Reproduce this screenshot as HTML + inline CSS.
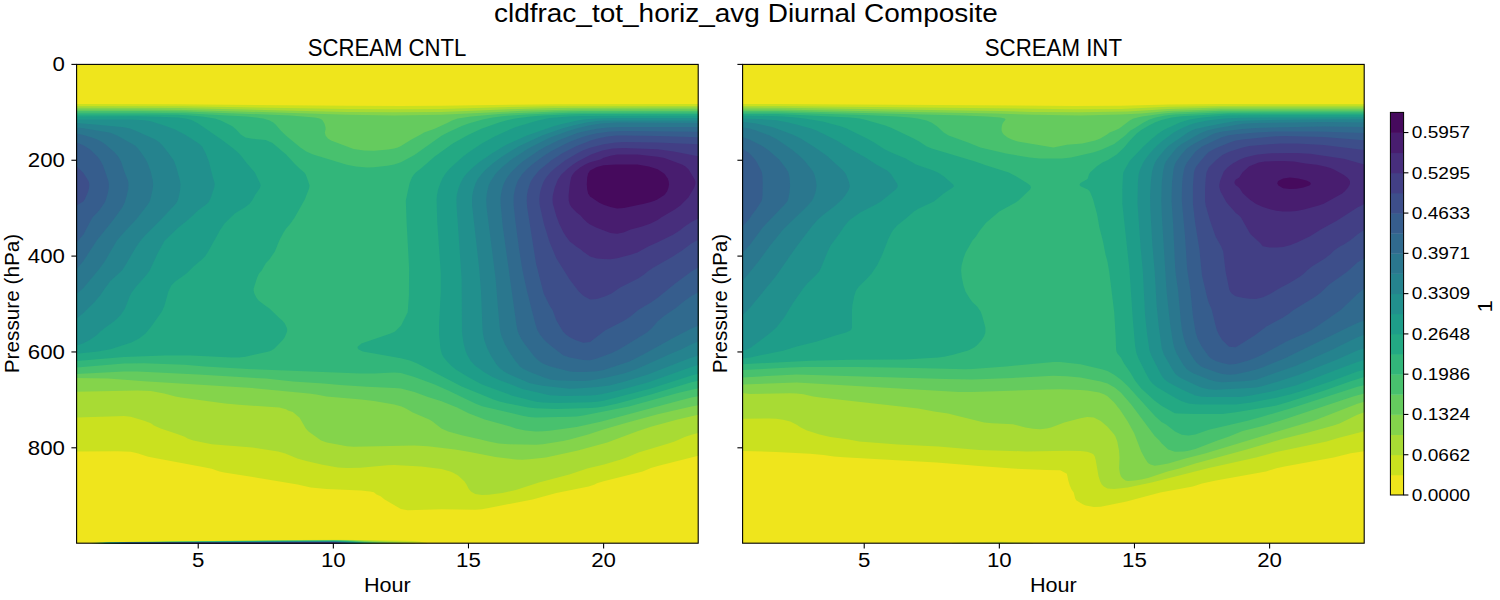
<!DOCTYPE html>
<html><head><meta charset="utf-8"><title>cldfrac_tot_horiz_avg Diurnal Composite</title>
<style>
html,body{margin:0;padding:0;background:#fff;}
body{width:1500px;height:600px;overflow:hidden;font-family:"Liberation Sans",sans-serif;}
svg{display:block;}
svg text{font-family:"Liberation Sans",sans-serif;fill:#000;}
</style></head><body>
<svg width="1500" height="600" viewBox="0 0 1500 600">
<rect width="1500" height="600" fill="#fff"/>

<g shape-rendering="geometricPrecision">
<rect x="76.6" y="64.4" width="621.6" height="478.8" fill="#efe51c"/>
<path fill="#cae11f" d="M76.6,104.4 76.6,104.1 177.9,104.3 346.9,105.7 400.9,105.9 441.5,105.7 556.3,104.2 698.2,104.1 698.2,455.7 657.7,465.9 650.9,468.0 642.6,471.4 603.6,481.3 596.9,483.3 594.7,484.4 588.6,486.4 556.3,493.1 532.5,499.4 488.7,508.1 482.0,509.2 475.2,509.7 441.5,509.3 407.7,510.3 400.9,509.1 384.6,499.4 380.6,496.3 376.6,494.4 373.9,492.2 370.0,491.4 361.1,490.4 326.6,489.1 310.7,487.4 297.6,484.4 224.3,472.4 219.5,471.4 211.7,468.8 205.5,467.4 152.1,457.4 147.4,456.4 137.4,453.2 130.7,451.8 117.1,451.3 76.6,451.4Z"/>
<path fill="#a8db34" d="M76.6,106.4 76.6,106.0 184.7,106.3 346.9,109.0 400.9,109.2 441.5,108.9 502.3,107.2 549.6,106.2 698.2,105.9 698.2,433.1 691.4,434.8 684.7,437.1 674.6,441.4 668.4,443.4 638.4,452.4 626.7,457.4 620.9,459.4 604.0,464.4 587.2,468.4 569.3,474.4 538.9,482.4 515.8,490.0 502.3,493.0 488.7,494.8 482.0,495.1 475.2,494.0 470.9,491.4 468.5,488.5 466.5,484.4 464.5,481.4 458.1,475.4 452.7,472.4 450.2,471.4 441.5,469.0 421.2,466.6 394.2,465.0 387.4,465.2 360.4,467.8 346.9,468.0 337.8,467.4 321.4,464.4 306.3,461.0 297.3,458.4 285.3,453.4 278.1,451.4 252.3,447.5 211.7,444.3 193.3,440.4 187.6,438.4 184.7,436.8 177.9,434.2 160.7,428.4 153.9,425.4 150.9,423.3 144.2,420.7 130.7,416.7 123.9,416.1 117.1,416.2 76.6,417.6Z"/>
<path fill="#84d44b" d="M76.6,108.4 76.6,107.7 177.9,108.0 346.9,111.9 394.2,112.2 441.5,111.9 509.0,109.2 556.3,108.0 698.2,107.6 698.2,414.8 677.5,419.4 650.9,426.8 637.4,431.2 607.2,442.4 577.9,450.4 545.9,457.4 529.3,459.2 522.5,459.7 515.8,459.5 495.5,456.9 468.5,451.8 455.0,449.6 427.9,446.2 414.4,445.5 353.6,446.8 346.9,446.2 326.8,442.4 321.1,440.4 308.5,431.4 305.8,428.4 299.6,417.8 292.8,412.1 288.0,410.4 286.1,409.2 279.3,407.6 238.8,404.8 225.2,403.5 180.9,397.4 175.4,396.4 164.2,393.4 150.9,390.9 137.4,390.4 76.6,391.7Z"/>
<path fill="#65cb5e" d="M580.1,109.4 698.2,109.3 698.2,405.2 691.4,406.4 657.7,414.3 623.9,423.4 603.3,429.4 588.1,434.4 569.8,439.6 563.1,441.1 542.8,444.3 536.0,444.8 509.0,444.3 498.7,443.4 488.7,441.6 480.7,439.4 461.7,435.2 448.2,431.4 441.4,428.4 432.5,421.4 429.2,419.4 412.8,412.4 405.9,408.4 401.6,406.4 394.2,404.5 373.9,400.9 361.2,399.4 326.6,396.4 316.3,394.4 308.8,393.4 252.3,388.1 144.2,381.3 108.2,378.4 76.6,378.1 76.6,109.4 137.4,109.5 184.7,109.9 292.8,112.9 346.9,114.8 394.2,115.4 441.5,114.8 522.5,110.8Z"/>
<path fill="#48c16e" d="M76.6,111.4 76.6,111.1 137.4,111.1 184.7,111.6 290.3,115.4 314.8,117.4 319.5,118.4 321.6,119.4 322.7,120.4 324.4,123.4 325.6,127.4 325.6,129.4 324.8,132.4 325.6,135.4 327.9,138.4 331.1,140.4 353.6,148.9 364.1,150.4 373.9,150.8 388.4,149.4 394.2,148.5 397.8,147.4 400.9,146.1 411.4,139.4 421.2,134.3 424.0,132.4 434.7,128.7 448.2,122.5 452.0,120.4 457.7,118.4 471.0,116.4 502.3,113.8 556.3,111.4 583.3,111.0 698.2,110.9 698.2,396.3 691.4,397.5 676.1,401.4 601.6,421.4 576.6,427.1 549.6,430.7 542.8,431.3 536.0,431.4 525.3,430.4 515.8,428.5 506.6,425.4 484.7,419.4 468.5,413.3 457.1,407.4 441.5,401.2 427.9,396.9 414.4,392.0 400.9,388.6 394.2,387.9 367.1,386.8 340.1,384.9 323.7,383.4 292.8,381.4 265.8,378.6 198.2,374.5 137.6,371.4 123.9,371.4 76.6,374.1Z"/>
<path fill="#32b67a" d="M76.6,113.4 76.6,112.7 144.2,112.7 184.7,113.2 246.4,116.4 263.1,118.4 269.7,120.4 273.3,122.4 275.6,124.4 280.7,130.4 286.1,135.7 300.4,147.4 306.3,151.6 313.1,154.5 346.9,164.8 355.8,166.4 367.1,167.4 373.9,167.3 387.4,165.7 394.2,164.5 400.9,162.2 414.4,155.1 441.5,135.8 448.2,132.2 461.7,126.0 468.5,123.5 482.7,119.4 492.7,117.4 502.3,116.2 526.0,114.4 569.8,112.7 698.2,112.5 698.2,388.3 677.9,393.1 628.9,406.4 583.3,415.6 576.6,416.4 569.8,416.8 536.0,417.5 529.3,416.9 522.5,415.7 482.0,406.2 475.2,403.6 448.2,390.6 434.7,384.6 414.4,376.9 400.9,373.0 394.2,372.5 373.9,373.6 360.4,373.5 252.3,369.2 204.9,366.4 184.7,364.7 144.2,363.3 123.9,363.6 76.6,367.4Z"/>
<path fill="#23a983" d="M76.6,114.4 144.2,114.4 177.9,114.8 190.4,115.4 201.8,116.4 214.9,118.4 220.8,120.4 232.0,126.0 236.2,129.4 240.7,134.4 245.5,137.5 252.3,138.7 265.8,140.1 272.5,143.1 286.1,154.5 294.4,163.4 299.6,168.4 304.3,172.4 305.7,174.4 306.9,177.4 309.6,185.4 309.1,188.4 304.8,199.4 294.7,217.4 289.7,224.4 286.1,228.4 283.0,233.4 279.3,240.4 274.9,251.4 269.4,259.4 265.8,263.3 261.7,270.4 259.0,273.6 256.8,278.4 253.7,288.4 253.6,290.4 254.3,293.4 256.3,297.4 258.5,300.4 265.8,306.0 269.5,308.4 279.3,318.0 282.2,320.4 284.8,323.4 286.7,327.4 287.2,329.4 287.1,331.4 284.6,337.4 282.3,340.4 274.5,348.4 271.4,350.4 268.9,351.4 245.5,356.7 238.8,357.6 232.0,357.6 191.5,355.6 164.4,355.4 123.9,357.1 76.6,361.1ZM566.4,114.4 583.3,114.0 698.2,114.0 698.2,380.7 691.4,382.3 650.9,394.6 617.6,403.4 603.6,406.6 596.9,407.5 590.1,407.9 556.3,409.0 536.0,408.3 528.5,407.4 507.6,403.4 499.4,401.4 493.5,399.4 461.7,386.4 417.3,363.4 409.9,360.4 400.9,358.3 362.8,351.4 358.7,349.4 357.8,348.4 357.5,347.4 357.9,346.4 361.4,343.4 390.6,333.4 395.1,331.4 401.1,325.4 407.7,312.3 408.9,295.4 409.1,268.4 406.6,222.4 405.8,200.4 409.5,183.4 411.9,177.4 413.9,174.4 415.7,172.4 421.2,168.2 434.7,156.4 452.7,143.4 469.0,134.4 482.0,128.6 499.1,122.4 506.1,120.4 515.1,118.4 530.6,116.4 542.8,115.4Z"/>
<path fill="#1e9d89" d="M76.6,116.4 137.4,116.3 157.7,116.7 177.9,117.6 185.6,118.4 191.5,119.9 198.2,123.4 222.8,140.4 233.3,148.4 239.0,153.4 241.7,156.4 247.0,163.4 254.9,172.4 260.1,183.4 260.7,185.4 259.7,188.4 255.4,194.4 252.1,200.4 249.8,203.4 245.5,206.9 234.8,213.4 224.5,223.4 219.8,230.4 207.7,252.4 204.9,256.4 201.9,259.4 193.5,266.4 186.5,273.4 175.3,281.4 171.3,285.4 168.4,291.4 164.5,305.4 161.9,311.4 150.9,327.1 145.6,333.4 139.1,338.4 131.4,342.4 110.4,349.2 97.9,351.4 76.6,353.8ZM569.0,116.4 583.3,115.9 698.2,115.8 698.2,373.7 691.4,375.4 650.9,388.5 603.6,400.8 596.9,401.8 590.1,402.2 556.3,402.9 542.8,402.6 536.0,401.7 511.5,395.4 482.0,384.4 468.5,377.2 455.8,369.4 451.0,365.4 446.3,360.4 443.8,357.4 442.0,354.4 440.4,348.4 439.0,333.4 439.0,324.4 440.8,291.4 440.8,273.4 437.3,222.4 436.6,200.4 436.9,195.4 438.1,189.4 440.2,183.4 442.4,178.4 445.5,173.4 449.8,168.4 463.0,156.4 469.8,151.4 481.8,143.4 494.6,136.4 507.7,130.4 515.8,127.1 537.8,120.4 549.6,118.0Z"/>
<path fill="#21908d" d="M595.9,118.4 617.1,118.0 698.2,118.1 698.2,365.0 691.4,366.9 647.8,382.4 618.0,390.4 603.6,393.8 596.9,395.0 590.1,395.5 563.1,396.0 549.6,395.3 522.5,388.9 500.4,380.4 491.5,376.4 484.7,372.4 474.9,365.4 470.4,360.4 467.0,354.4 465.4,350.4 463.6,343.4 462.0,332.4 461.6,278.4 456.6,206.4 456.4,199.4 456.9,194.4 458.4,188.4 460.8,182.4 463.5,177.4 466.7,173.4 471.7,168.4 478.7,162.4 491.8,153.4 504.9,145.4 526.9,135.4 552.9,126.4 559.9,124.4 577.4,120.4 583.6,119.4ZM76.6,119.4 130.7,119.5 144.2,120.2 150.9,121.3 154.7,122.4 167.1,126.4 175.0,129.4 184.7,134.5 192.7,139.4 198.8,143.4 202.1,146.4 205.3,152.4 208.9,161.4 212.6,176.4 214.5,182.4 214.7,184.4 214.2,187.4 210.5,198.4 208.3,202.4 206.1,204.4 198.0,210.4 188.4,219.4 177.9,228.0 164.4,241.1 157.7,253.2 149.7,270.4 146.9,274.4 136.2,286.4 131.7,292.4 129.6,296.4 125.0,308.4 120.3,315.4 113.8,321.4 105.4,327.4 100.4,331.4 96.9,334.9 90.1,339.7 83.4,343.2 76.6,345.4Z"/>
<path fill="#25838e" d="M603.9,120.4 698.2,120.4 698.2,355.5 688.9,358.4 647.9,374.4 623.9,381.7 609.4,385.4 596.9,387.0 576.6,388.6 569.8,388.7 542.8,385.7 536.0,384.6 529.3,382.9 509.0,374.2 504.0,371.4 500.2,368.4 496.5,364.4 491.4,356.4 487.3,348.4 484.4,340.4 483.1,334.4 482.5,329.4 481.0,291.4 479.2,268.4 472.0,204.4 472.1,196.4 473.5,189.4 475.5,183.4 477.5,179.4 481.2,174.4 485.9,169.4 492.7,163.4 500.7,157.4 518.4,146.4 542.0,135.4 562.0,128.4 573.0,125.4 586.7,122.4 596.9,121.0ZM76.6,123.4 76.6,122.9 94.9,124.4 123.9,127.3 129.8,128.4 135.1,130.4 155.3,139.4 159.6,142.4 162.5,145.4 168.8,153.4 173.8,160.4 176.4,167.4 180.0,180.4 180.5,184.4 180.2,189.4 178.9,196.4 177.7,200.4 176.1,203.4 161.9,218.4 145.9,234.4 141.5,239.4 137.0,245.4 125.9,264.4 122.0,270.4 110.4,280.9 104.8,288.4 100.1,295.4 94.1,302.4 83.4,312.9 76.6,318.4Z"/>
<path fill="#2a778e" d="M601.0,123.4 617.1,122.6 698.2,123.1 698.2,341.5 691.4,344.2 681.1,349.4 671.2,353.5 637.9,368.4 630.6,371.3 623.7,373.4 606.5,377.4 590.1,380.5 583.3,380.9 569.8,380.8 556.3,380.3 550.2,379.4 542.8,377.1 529.3,371.7 522.7,368.4 520.1,366.4 515.8,361.6 509.0,351.5 504.6,343.4 501.7,336.4 500.5,332.4 499.7,327.4 495.5,277.7 486.6,207.4 486.2,199.4 487.0,192.4 488.7,185.6 490.5,181.4 495.1,174.4 497.6,171.4 502.3,167.0 511.5,159.4 528.2,148.4 549.6,137.8 566.7,131.4 576.5,128.4 588.6,125.4ZM76.6,128.4 76.6,127.5 83.4,128.3 110.4,132.8 117.0,135.4 134.9,145.4 137.1,147.4 141.0,152.4 145.7,159.4 147.8,163.4 150.7,171.4 152.8,180.4 153.1,184.4 152.6,189.4 150.6,198.4 149.6,201.4 147.8,204.4 136.2,219.4 125.7,230.4 117.1,240.2 105.3,260.4 99.6,268.4 83.4,287.9 76.6,294.1Z"/>
<path fill="#306a8e" d="M607.9,127.4 623.9,126.9 698.2,127.0 698.2,325.7 691.4,328.5 674.0,337.4 644.1,354.0 629.5,361.4 603.6,369.9 596.9,371.3 583.3,371.9 576.6,372.0 569.8,371.6 549.6,366.2 542.8,363.5 538.4,360.4 534.3,356.4 525.0,344.4 521.6,339.4 518.6,333.4 517.3,329.4 516.4,324.4 502.6,225.4 500.6,203.4 500.5,198.4 501.1,193.4 502.7,186.4 504.3,182.4 507.1,177.4 510.9,172.4 518.0,165.4 522.7,161.4 538.7,150.4 545.9,146.4 558.0,140.4 576.6,133.2 583.3,131.4 596.9,128.7ZM76.6,134.4 76.6,133.6 83.4,135.0 91.7,137.4 97.2,139.4 101.1,141.4 105.5,144.4 114.8,152.4 118.8,157.4 121.0,161.4 124.3,171.4 128.0,180.4 128.6,184.4 128.2,189.4 126.5,196.4 124.7,202.4 122.2,207.4 112.8,220.4 96.9,240.3 83.4,260.9 76.6,269.0Z"/>
<path fill="#365d8d" d="M610.3,131.4 623.9,131.1 698.2,131.7 698.2,292.2 691.4,296.1 684.7,300.7 675.1,308.4 664.4,315.7 657.7,321.3 651.5,328.4 646.9,332.4 623.9,346.6 617.1,350.4 610.5,353.4 596.9,358.6 590.1,360.3 583.3,360.1 569.8,357.5 563.1,355.2 549.6,344.8 544.9,340.4 539.9,334.4 537.1,329.4 535.0,322.4 526.6,289.4 522.5,270.4 519.3,250.4 515.4,221.4 513.6,204.4 513.7,195.4 515.1,188.4 517.1,182.4 518.6,179.4 522.5,173.7 526.5,169.4 532.1,164.4 544.3,155.4 550.7,151.4 563.1,144.9 569.8,141.8 581.2,137.4 587.5,135.4 595.9,133.4ZM76.6,143.4 76.6,142.5 83.4,145.3 90.1,149.4 97.4,156.4 101.0,161.4 103.0,165.4 108.2,180.4 108.9,184.4 108.7,188.4 107.7,193.4 106.0,199.4 104.7,202.4 99.9,209.4 96.9,213.0 92.4,217.4 83.4,234.6 76.6,242.5Z"/>
<path fill="#3d4e8a" d="M607.2,136.4 617.1,135.5 623.9,135.4 657.7,135.9 698.2,137.3 698.2,267.4 691.4,271.4 675.2,283.4 657.7,297.7 650.9,302.6 638.9,309.4 630.5,316.4 623.9,320.7 605.0,330.4 590.1,341.9 583.3,342.7 576.6,340.6 570.1,337.4 566.0,334.4 563.1,331.7 556.3,320.3 552.8,310.4 549.6,305.5 543.7,293.4 536.0,263.4 527.2,207.4 526.7,201.4 526.9,195.4 527.8,190.4 529.6,184.4 530.9,181.4 533.3,177.4 539.0,170.4 551.1,160.4 561.9,153.4 576.6,145.9 590.7,140.4 597.6,138.4ZM76.6,167.4 76.6,166.4 77.8,167.4 83.4,172.9 88.2,180.4 89.0,182.4 89.3,184.4 89.1,187.4 88.2,191.4 84.7,199.4 83.2,201.4 76.6,205.4Z"/>
<path fill="#423f85" d="M615.5,142.4 623.9,142.1 657.7,142.4 698.2,144.2 698.2,239.8 691.4,243.5 682.1,250.4 672.9,256.4 653.5,267.4 647.6,271.4 644.1,274.6 638.1,278.4 620.1,287.4 611.6,293.4 604.7,296.4 596.9,299.0 590.1,299.4 583.3,295.8 578.8,291.4 569.8,279.8 556.3,258.2 549.6,242.3 543.8,223.4 539.6,204.4 539.3,199.4 539.7,194.4 540.8,189.4 542.8,183.4 544.2,180.4 546.9,176.4 550.3,172.4 554.6,168.4 565.0,160.4 576.9,153.4 583.3,150.3 590.1,147.8 603.6,144.3Z"/>
<path fill="#472e7c" d="M612.5,148.4 623.9,147.9 657.7,149.2 673.8,151.4 698.2,156.2 698.2,218.4 691.4,222.1 684.7,226.4 679.7,230.4 673.5,234.4 657.7,242.3 648.2,246.4 637.4,252.4 630.6,254.7 617.1,258.3 610.4,259.3 603.6,259.1 596.9,258.4 590.1,256.4 583.3,251.7 580.8,249.4 576.6,246.8 569.8,241.6 566.0,236.4 563.1,231.7 559.1,223.4 556.3,216.0 552.8,203.4 552.5,199.4 552.8,195.4 554.7,187.4 557.9,179.4 561.3,174.4 567.8,168.4 573.0,164.4 577.6,161.4 591.0,154.4 602.4,150.4Z"/>
<path fill="#481d6f" d="M621.0,154.4 637.4,154.5 657.7,156.8 664.4,158.1 682.0,164.4 685.5,166.4 688.7,169.4 694.7,179.4 695.4,181.4 695.5,183.4 694.3,187.4 688.4,197.4 680.4,205.4 674.8,209.4 661.1,217.4 657.7,220.1 650.7,223.4 642.1,226.4 630.6,229.5 623.5,232.4 617.1,233.8 610.4,232.9 596.1,227.4 590.1,224.6 587.2,222.4 583.3,218.8 580.5,215.4 576.6,212.6 571.7,207.4 569.8,204.6 568.7,200.4 568.6,195.4 569.6,185.4 571.1,177.4 572.6,174.4 575.1,171.4 580.1,167.4 585.1,164.4 590.1,162.3 600.3,159.4 603.6,157.8 610.4,155.7 617.1,154.6Z"/>
<path fill="#460a5d" d="M616.0,164.4 637.4,164.6 648.8,166.4 657.7,169.2 664.4,173.8 667.8,178.4 668.7,181.4 669.0,184.4 668.5,187.4 667.1,191.4 664.4,195.1 657.7,199.3 655.1,200.4 650.9,201.9 644.1,203.7 623.9,208.1 617.1,208.4 610.4,207.0 603.6,204.8 598.9,202.4 590.1,196.5 588.1,193.4 587.2,189.4 586.8,184.4 587.2,177.4 588.1,173.4 590.1,170.5 596.9,166.9 603.6,165.2Z"/>
<path fill="#cae11f" d="M89.6,543.20 90.6,542.98 92.6,542.67 98.6,542.38 124.6,541.96 298.6,539.91 336.6,539.73 376.6,540.17 404.6,540.72 412.6,541.10 418.6,541.60 422.6,542.14 426.6,543.07 427.6,543.20Z"/>
<path fill="#a8db34" d="M91.6,543.20 92.6,543.01 96.6,542.64 100.6,542.47 124.6,542.03 298.6,540.11 334.6,539.94 356.6,540.26 394.6,541.46 406.6,542.09 414.6,542.98 415.6,543.20Z"/>
<path fill="#84d44b" d="M93.6,543.20 94.6,543.02 98.6,542.70 104.6,542.47 124.6,542.10 298.6,540.30 334.6,540.15 346.6,540.33 358.6,540.72 392.6,542.32 404.6,543.16 405.6,543.20Z"/>
<path fill="#65cb5e" d="M95.6,543.20 96.6,543.02 104.6,542.57 126.6,542.16 298.6,540.50 334.6,540.35 344.6,540.55 356.6,541.01 364.6,541.57 376.6,542.17 390.6,543.13 391.6,543.20Z"/>
<path fill="#48c16e" d="M97.6,543.20 98.6,543.02 106.6,542.63 126.6,542.23 298.6,540.70 334.6,540.56 344.6,540.81 354.6,541.27 364.6,542.09 380.6,543.16 381.6,543.20Z"/>
<path fill="#32b67a" d="M97.6,543.20 98.6,543.17 106.6,542.73 126.6,542.31 298.6,540.89 334.6,540.77 342.6,540.99 352.6,541.49 358.6,541.93 364.6,542.61 372.6,543.17 373.6,543.20Z"/>
<path fill="#23a983" d="M99.6,543.20 100.6,543.15 106.6,542.83 126.6,542.38 298.6,541.09 334.6,540.97 342.6,541.24 352.6,541.83 358.6,542.34 364.6,543.13 365.6,543.20Z"/>
<path fill="#1e9d89" d="M101.6,543.20 102.6,543.13 110.6,542.81 126.6,542.46 298.6,541.28 334.6,541.18 348.6,541.86 354.6,542.33 360.6,543.00 361.6,543.20Z"/>
<path fill="#21908d" d="M103.6,543.20 104.6,543.12 126.6,542.53 298.6,541.48 334.6,541.38 346.6,542.00 354.6,542.68 358.6,543.15 359.6,543.20Z"/>
<path fill="#25838e" d="M105.6,543.20 106.6,543.14 126.6,542.61 298.6,541.67 334.6,541.59 344.6,542.13 354.6,543.04 355.6,543.20Z"/>
<path fill="#2a778e" d="M107.6,543.20 108.6,543.16 126.6,542.69 298.6,541.87 334.6,541.80 344.6,542.39 352.6,543.16 353.6,543.20Z"/>
<path fill="#306a8e" d="M109.6,543.20 110.6,543.18 126.6,542.76 334.6,542.00 342.6,542.49 348.6,543.04 349.6,543.20Z"/>
<path fill="#365d8d" d="M113.6,543.20 114.6,543.14 126.6,542.84 334.6,542.21 340.6,542.58 346.6,543.11 347.6,543.20Z"/>
<path fill="#3d4e8a" d="M115.6,543.20 116.6,543.16 126.6,542.91 334.6,542.42 344.6,543.18 345.6,543.20Z"/>
<path fill="#423f85" d="M117.6,543.20 118.6,543.18 126.6,542.99 334.6,542.62 340.6,543.05 341.6,543.20Z"/>
<path fill="#472e7c" d="M119.6,543.20 120.6,543.19 126.6,543.06 334.6,542.83 338.6,543.11 339.6,543.20Z"/>
<path fill="#481d6f" d="M123.6,543.20 124.6,543.15 334.6,543.03 336.6,543.16 337.6,543.20Z"/>
</g>
<g shape-rendering="geometricPrecision">
<rect x="742.6" y="64.4" width="621.6" height="478.8" fill="#efe51c"/>
<path fill="#cae11f" d="M742.6,104.4 742.6,104.1 776.4,104.1 1073.7,105.9 1121.0,105.7 1168.3,104.6 1222.3,104.1 1364.2,104.0 1364.2,451.2 1350.7,453.2 1333.6,457.4 1284.5,466.4 1276.4,468.3 1266.0,471.4 1215.9,480.4 1202.0,483.5 1192.8,486.4 1160.2,492.4 1126.5,501.4 1100.7,506.7 1093.9,507.1 1085.8,505.4 1083.2,504.4 1076.5,500.4 1075.2,498.4 1073.7,492.5 1071.6,489.4 1069.8,485.4 1068.3,480.4 1066.9,473.8 1060.2,470.2 1046.6,470.0 1012.9,468.6 979.1,466.1 936.8,462.4 843.9,457.2 833.9,456.4 823.7,454.9 810.2,453.7 776.4,451.9 742.6,450.9Z"/>
<path fill="#a8db34" d="M742.6,106.4 742.6,105.9 776.4,106.0 1073.7,109.2 1121.0,108.9 1168.3,106.8 1222.3,105.9 1364.2,105.8 1364.2,431.3 1337.2,438.3 1326.6,441.4 1276.4,452.1 1256.1,457.4 1208.8,467.9 1151.5,482.4 1127.7,487.4 1114.2,489.0 1107.5,488.5 1103.8,486.4 1101.8,484.4 1100.2,481.4 1098.6,476.4 1095.8,460.4 1094.8,456.4 1093.5,454.4 1092.0,453.4 1087.2,451.8 1080.4,451.1 1066.9,450.7 1026.4,451.4 979.1,449.9 938.5,446.5 898.0,444.5 859.2,441.4 848.8,439.4 830.4,437.0 819.6,434.4 807.0,430.4 800.8,427.4 796.7,424.7 790.2,421.4 783.1,419.8 776.4,418.8 769.6,418.4 742.6,418.7Z"/>
<path fill="#84d44b" d="M742.6,108.4 742.6,107.6 776.4,107.7 999.3,111.0 1033.1,111.9 1080.4,112.2 1127.7,111.6 1168.3,108.9 1222.3,107.6 1364.2,107.5 1364.2,412.2 1357.4,414.8 1339.5,423.4 1333.6,425.4 1308.3,432.4 1283.1,438.8 1246.6,449.4 1195.3,463.6 1179.3,468.4 1167.5,471.4 1148.0,477.9 1141.2,479.5 1134.5,480.6 1127.7,481.1 1125.5,480.4 1122.7,478.4 1121.0,476.5 1119.9,473.4 1119.1,468.4 1119.5,457.4 1119.0,450.4 1117.3,441.4 1115.4,436.4 1114.2,434.4 1107.5,426.8 1100.7,421.0 1093.9,417.6 1087.2,417.1 1080.4,418.2 1064.3,422.4 1051.0,427.4 1046.6,428.6 1039.9,429.3 1033.1,428.7 1025.4,427.4 1012.9,424.3 992.6,423.3 984.1,422.4 948.0,413.4 934.2,411.4 918.3,408.4 820.5,397.4 813.2,396.4 803.4,394.2 796.7,393.5 789.9,393.3 749.4,393.9 742.6,393.0Z"/>
<path fill="#65cb5e" d="M742.6,109.4 776.4,109.4 994.7,113.4 1033.1,114.8 1080.4,115.4 1121.0,114.6 1141.2,113.4 1168.3,111.0 1222.3,109.2 1364.2,109.2 1364.2,401.8 1357.4,403.8 1314.4,420.4 1205.0,453.4 1185.4,458.4 1168.3,463.4 1161.5,464.8 1154.7,465.7 1150.5,464.4 1148.0,462.9 1145.0,458.4 1141.2,451.4 1134.3,433.4 1127.7,421.4 1120.5,410.4 1114.2,402.4 1107.5,396.3 1104.5,394.4 1099.2,392.4 1087.2,390.4 1080.4,389.9 1060.2,389.2 1046.6,389.4 972.3,392.1 958.8,392.1 796.7,382.6 742.6,384.5Z"/>
<path fill="#48c16e" d="M742.6,111.4 742.6,110.9 776.4,111.0 864.2,112.9 963.5,115.4 986.9,116.4 1000.2,117.4 1004.8,118.4 1005.6,119.4 1003.2,122.4 1002.2,124.4 1001.6,127.4 1001.6,130.4 1002.3,132.4 1003.7,134.4 1007.6,137.4 1011.8,139.4 1017.8,141.4 1053.4,147.6 1066.9,144.8 1082.2,143.4 1095.2,140.4 1100.3,138.4 1107.1,134.4 1109.6,132.4 1114.2,130.8 1119.2,128.4 1129.7,120.4 1133.4,118.4 1141.7,116.4 1163.7,113.4 1175.0,112.5 1222.3,110.8 1364.2,110.7 1364.2,393.4 1353.2,396.4 1281.0,420.4 1262.9,425.9 1242.6,431.1 1229.1,436.5 1217.5,440.4 1195.3,449.0 1188.5,450.8 1184.0,451.4 1175.0,451.7 1168.2,449.4 1161.5,443.2 1159.4,440.4 1154.7,436.0 1131.2,404.4 1121.0,392.8 1117.1,389.4 1114.2,387.2 1107.5,383.5 1100.7,381.5 1080.4,377.5 1066.9,376.3 1053.4,375.7 1012.9,377.9 972.3,379.4 945.3,379.0 796.7,374.5 742.6,377.4Z"/>
<path fill="#32b67a" d="M1219.6,112.4 1364.2,112.2 1364.2,385.2 1357.4,386.7 1293.5,407.4 1262.9,416.5 1248.6,420.4 1208.8,429.7 1195.3,434.6 1188.5,435.6 1181.8,434.8 1175.0,431.5 1166.1,424.4 1161.5,421.9 1155.4,416.4 1127.7,385.9 1121.0,379.7 1114.2,374.7 1107.5,371.1 1102.7,369.4 1080.4,364.2 1060.2,362.1 1053.4,362.0 1006.1,366.4 972.3,369.1 965.6,369.3 904.8,367.7 857.5,367.1 803.4,367.1 789.9,367.4 742.6,370.1 742.6,112.5 776.4,112.5 864.2,115.0 896.7,116.4 909.9,117.4 917.7,118.4 926.6,120.4 931.8,122.7 937.3,126.4 943.7,132.4 948.6,135.4 968.0,142.4 980.4,147.4 1006.1,153.6 1029.5,157.4 1039.9,158.4 1053.4,158.6 1062.1,158.4 1071.0,157.4 1093.9,152.3 1100.7,150.1 1114.2,143.9 1125.2,135.4 1130.4,130.4 1134.5,128.3 1143.6,122.4 1149.5,119.4 1155.6,117.4 1165.3,115.4 1174.4,114.4Z"/>
<path fill="#23a983" d="M742.6,114.4 742.6,114.0 776.4,114.1 810.5,115.4 850.3,117.4 859.4,118.4 864.2,119.4 884.5,125.3 891.2,127.8 913.7,138.4 919.2,141.4 926.8,146.4 931.8,148.6 975.2,161.4 985.8,165.3 1008.8,172.4 1016.4,176.4 1027.7,183.4 1030.2,185.4 1031.0,187.4 1030.1,189.4 1018.5,200.4 1015.7,202.4 999.3,211.5 985.8,222.9 979.1,231.6 976.0,236.4 972.3,240.7 965.6,252.4 963.4,258.4 961.6,265.4 961.1,270.4 961.8,277.4 963.5,285.4 965.6,291.8 969.8,298.4 972.3,301.9 977.2,306.4 980.6,311.4 982.1,315.4 985.4,327.4 985.4,332.4 984.0,336.4 981.3,340.4 976.8,345.4 974.1,347.4 968.2,350.4 952.1,354.9 945.3,356.5 938.5,357.4 904.8,359.6 850.7,359.8 810.2,360.8 742.6,364.2ZM1212.8,114.4 1229.1,113.6 1364.2,113.7 1364.2,377.0 1350.7,381.3 1323.7,390.7 1289.9,401.5 1276.4,405.5 1269.6,406.8 1235.8,412.3 1222.3,413.9 1195.3,414.1 1177.0,413.4 1175.0,413.2 1173.4,412.4 1161.5,405.7 1154.7,400.7 1141.2,388.5 1135.0,380.4 1130.3,372.4 1124.0,363.4 1121.0,357.8 1117.4,353.4 1116.5,351.4 1116.1,349.4 1115.6,335.4 1114.2,312.1 1109.3,272.4 1107.5,261.7 1105.5,254.4 1103.0,241.4 1099.4,227.4 1097.1,214.4 1093.1,199.4 1090.3,192.4 1089.0,190.4 1087.8,189.4 1081.0,186.4 1079.9,185.4 1079.6,184.4 1080.1,183.4 1081.3,182.4 1087.2,179.3 1087.8,178.4 1088.9,174.4 1090.1,172.4 1096.6,166.4 1102.4,162.4 1107.5,160.3 1116.7,154.4 1124.1,147.4 1129.9,140.4 1136.6,133.4 1141.2,129.9 1148.0,125.9 1154.7,122.6 1161.5,119.9 1171.6,117.4 1181.8,116.3Z"/>
<path fill="#1e9d89" d="M1224.7,115.4 1364.2,115.3 1364.2,369.7 1357.4,371.5 1330.4,381.6 1303.6,390.4 1289.9,394.6 1276.4,397.8 1251.2,402.4 1235.8,404.5 1202.0,404.4 1195.3,404.2 1188.5,403.5 1181.8,401.2 1176.3,398.4 1157.5,387.4 1152.4,383.4 1149.3,379.4 1145.5,372.4 1138.5,358.4 1136.2,352.4 1135.1,345.4 1132.9,320.4 1129.4,269.4 1122.3,203.4 1122.3,189.4 1123.0,174.4 1123.4,172.4 1124.7,169.4 1129.4,161.4 1131.0,159.4 1143.4,146.4 1151.1,139.4 1158.3,133.4 1164.5,129.4 1179.8,122.4 1189.6,119.4 1202.4,117.4ZM742.6,116.4 742.6,115.8 769.6,115.9 783.1,116.4 795.7,117.4 804.5,118.4 822.7,121.4 841.3,126.4 846.7,128.4 867.0,138.4 874.2,142.4 884.5,149.2 891.2,152.6 905.7,158.4 915.9,164.4 933.3,170.4 937.9,172.4 944.0,176.4 953.1,184.4 953.7,185.4 953.7,186.4 952.8,187.4 943.7,193.4 933.9,201.4 918.3,208.8 913.9,211.4 905.9,218.4 897.1,225.4 892.8,230.4 891.0,233.4 888.1,239.4 882.3,254.4 877.6,264.4 871.6,273.4 867.1,278.4 858.9,286.4 856.0,290.4 854.1,296.4 852.5,304.4 852.0,309.4 852.0,327.4 851.3,329.4 850.4,330.4 846.0,332.4 835.4,335.4 816.9,341.5 796.7,346.6 783.1,350.7 750.3,357.4 742.6,358.6Z"/>
<path fill="#21908d" d="M1299.4,117.4 1364.2,117.2 1364.2,360.1 1357.4,362.1 1337.2,369.6 1296.6,385.3 1271.8,391.4 1249.3,395.8 1242.6,396.7 1235.8,397.1 1208.8,397.0 1202.0,396.7 1195.3,395.4 1181.8,389.4 1168.3,382.2 1164.6,379.4 1162.2,376.4 1160.0,372.4 1151.3,355.4 1149.5,350.4 1146.9,332.4 1145.1,315.4 1142.8,270.4 1140.7,248.4 1137.5,203.4 1137.9,182.4 1138.6,174.4 1139.7,170.4 1142.7,163.4 1145.1,159.4 1149.7,153.4 1156.1,146.4 1161.7,141.4 1173.7,132.4 1181.1,128.4 1188.5,125.2 1195.3,123.0 1207.4,120.4 1224.3,118.4 1242.6,117.8ZM742.6,119.4 742.6,118.5 764.9,119.4 776.4,120.3 788.1,122.4 796.3,124.4 811.0,128.4 816.5,130.4 837.2,140.7 852.9,150.4 865.5,157.4 876.2,164.4 887.1,170.4 890.5,173.4 897.0,183.4 897.8,185.4 897.4,187.4 895.7,189.4 880.9,201.4 875.8,204.4 860.2,212.4 850.7,219.2 847.4,222.4 844.1,226.4 839.5,233.4 830.6,245.4 827.3,252.4 820.7,268.4 819.1,271.4 815.6,275.4 807.3,283.4 803.2,288.4 792.7,303.4 784.2,317.4 776.4,327.6 769.6,333.6 750.9,347.4 747.2,349.4 742.6,351.1Z"/>
<path fill="#25838e" d="M1308.3,119.4 1364.2,119.3 1364.2,348.3 1357.4,350.5 1337.1,359.4 1299.8,374.4 1278.3,381.4 1262.9,385.9 1256.1,387.5 1249.3,388.1 1215.6,389.7 1208.8,389.3 1202.0,387.7 1198.7,386.4 1181.8,378.4 1178.5,376.4 1175.0,373.4 1173.0,370.4 1163.9,354.4 1161.8,348.4 1158.9,327.4 1156.7,306.4 1154.7,271.4 1152.4,245.4 1150.3,208.4 1150.1,195.4 1150.9,180.4 1152.1,171.4 1154.1,164.4 1156.1,160.4 1158.3,157.4 1164.9,149.4 1168.9,145.4 1188.0,132.4 1191.6,130.4 1195.3,129.1 1216.3,124.4 1235.8,121.0 1249.3,120.4ZM742.6,122.4 742.6,121.8 756.1,123.4 773.6,127.4 792.4,134.4 800.7,138.4 813.5,146.4 826.5,155.4 842.0,169.4 844.8,172.4 846.0,174.4 848.8,181.4 849.8,185.4 849.6,187.4 848.4,190.4 845.1,195.4 841.9,199.4 835.4,205.4 823.7,214.4 817.9,219.4 811.8,226.4 796.6,246.4 775.7,276.4 749.4,308.5 742.6,315.0Z"/>
<path fill="#2a778e" d="M1294.9,122.4 1323.7,122.0 1364.2,122.4 1364.2,334.8 1357.4,337.3 1330.5,350.4 1296.6,365.5 1256.9,379.4 1251.1,380.4 1242.6,381.2 1222.3,382.3 1215.6,381.6 1208.8,379.6 1193.6,373.4 1188.5,370.5 1186.2,368.4 1183.1,364.4 1176.6,353.4 1174.6,348.4 1173.0,342.4 1170.2,324.4 1166.6,291.4 1162.0,218.4 1161.3,201.4 1161.7,183.4 1163.0,171.4 1164.6,164.4 1166.0,161.4 1167.4,159.4 1175.4,149.4 1178.4,146.4 1181.8,144.0 1199.8,133.4 1207.0,130.4 1215.6,128.5 1242.6,123.8 1256.1,123.0ZM742.6,127.4 749.4,128.6 756.1,130.4 769.6,135.6 777.2,139.4 791.7,149.4 800.2,156.4 804.3,160.4 812.3,170.4 813.5,172.4 814.7,175.4 816.1,181.4 816.5,185.4 816.1,189.4 815.1,193.4 813.2,198.4 811.4,201.4 806.8,206.4 783.1,229.4 769.6,246.2 758.5,261.4 742.6,280.8Z"/>
<path fill="#306a8e" d="M1271.4,127.4 1323.7,126.6 1364.2,127.1 1364.2,320.6 1357.4,322.9 1349.9,326.4 1284.4,358.4 1262.9,367.2 1256.1,369.5 1249.3,371.3 1235.8,374.2 1229.1,374.8 1222.3,374.1 1215.6,372.1 1203.3,367.4 1201.3,366.4 1197.4,363.4 1194.1,359.4 1188.4,350.4 1185.4,343.4 1183.4,336.4 1181.9,329.4 1180.8,320.4 1178.1,290.4 1175.8,274.4 1175.1,266.4 1173.1,223.4 1171.5,200.4 1172.0,182.4 1173.5,169.4 1174.8,164.4 1176.3,161.4 1181.8,154.0 1186.9,148.4 1189.5,146.4 1195.3,143.0 1214.0,133.4 1222.3,131.4 1242.6,129.0 1256.1,127.9ZM742.6,137.4 742.6,137.1 749.4,139.4 761.4,145.4 768.8,150.4 779.1,159.4 786.1,168.4 788.4,172.4 789.4,176.4 790.1,185.4 789.6,191.4 788.6,197.4 787.7,200.4 786.5,202.4 762.9,227.3 749.4,245.5 742.6,252.8Z"/>
<path fill="#365d8d" d="M1256.3,132.4 1276.4,131.5 1316.9,131.5 1364.2,133.1 1364.2,288.6 1357.4,294.1 1341.3,309.4 1317.0,326.4 1310.7,330.4 1303.4,334.0 1286.4,341.4 1264.6,353.4 1256.1,357.5 1248.3,360.4 1235.8,364.0 1229.1,364.5 1222.3,363.0 1215.6,360.9 1211.2,358.4 1208.9,356.4 1201.7,346.4 1197.6,338.4 1195.7,332.4 1193.0,316.4 1190.3,289.4 1187.2,269.4 1184.9,234.4 1181.8,200.4 1182.0,186.4 1182.6,177.4 1184.0,169.4 1185.4,165.4 1187.0,162.4 1195.3,151.8 1202.0,146.6 1221.2,137.4 1227.8,135.4 1235.8,134.2ZM742.6,149.4 742.6,148.8 749.4,153.2 753.3,157.4 756.1,161.1 760.7,169.4 761.9,172.4 762.5,176.4 762.7,182.4 762.5,195.4 762.0,199.4 761.3,201.4 756.1,209.5 752.2,214.4 749.4,218.8 742.6,226.2Z"/>
<path fill="#3d4e8a" d="M1273.2,136.4 1283.1,136.1 1323.7,137.0 1364.2,140.2 1364.2,258.3 1357.4,262.4 1347.5,271.4 1329.2,284.4 1320.9,292.4 1315.6,296.4 1292.8,310.4 1289.9,312.9 1283.1,317.5 1266.4,326.4 1254.5,335.4 1235.8,347.2 1229.1,346.8 1222.3,340.2 1218.8,334.4 1217.0,330.4 1215.6,325.8 1211.7,309.4 1208.8,303.0 1207.2,297.4 1202.0,275.4 1199.3,248.4 1195.3,223.9 1192.9,203.4 1192.9,186.4 1193.9,172.4 1194.8,169.4 1196.2,166.4 1204.4,156.4 1208.8,152.0 1215.6,148.2 1229.1,142.7 1235.8,140.5 1242.6,139.4Z"/>
<path fill="#423f85" d="M1280.7,143.4 1296.6,143.4 1323.7,145.0 1364.2,149.9 1364.2,230.0 1357.4,234.4 1350.7,240.1 1343.9,244.4 1339.9,246.4 1334.0,250.4 1330.4,254.2 1323.7,259.3 1311.9,266.4 1307.0,270.4 1303.4,274.1 1300.1,276.4 1290.4,282.4 1279.1,288.4 1269.6,294.2 1262.9,297.3 1256.1,298.9 1249.3,298.7 1242.6,297.8 1236.6,296.4 1234.4,295.4 1231.7,293.4 1230.2,291.4 1229.3,289.4 1225.6,271.4 1223.2,251.4 1221.2,246.4 1215.6,236.5 1210.0,220.4 1205.7,205.4 1205.0,200.4 1205.0,190.4 1205.6,179.4 1206.5,172.4 1208.8,167.3 1215.6,160.5 1222.3,154.9 1229.1,151.8 1242.6,147.5 1249.3,146.0Z"/>
<path fill="#472e7c" d="M1267.7,153.4 1296.6,152.9 1310.1,153.7 1343.9,158.7 1364.2,164.6 1364.2,204.1 1357.4,207.4 1337.2,220.5 1320.8,229.4 1310.1,236.3 1297.0,242.4 1289.9,245.2 1283.1,246.9 1276.4,247.5 1269.6,247.6 1262.9,246.3 1259.6,242.4 1250.9,234.4 1249.3,232.3 1241.0,217.4 1239.1,215.4 1235.8,213.0 1226.6,202.4 1220.5,191.4 1219.4,187.4 1219.3,184.4 1220.2,180.4 1223.8,171.4 1227.4,167.4 1232.7,163.4 1239.9,159.4 1244.9,157.4 1256.1,154.8Z"/>
<path fill="#481d6f" d="M1264.9,161.4 1283.1,161.0 1294.0,161.4 1305.7,163.4 1316.9,164.8 1325.0,166.4 1330.4,167.9 1334.0,169.4 1343.9,175.0 1347.2,177.4 1349.1,179.4 1350.0,181.4 1350.0,183.4 1349.3,185.4 1347.3,188.4 1344.6,191.4 1342.2,193.4 1323.7,203.7 1318.7,205.4 1303.9,209.4 1296.6,210.9 1289.9,211.4 1283.1,211.4 1276.4,210.7 1270.9,209.4 1262.9,206.9 1256.1,203.9 1249.3,199.3 1242.6,193.1 1239.8,188.4 1237.7,186.4 1235.8,185.3 1234.6,183.4 1234.4,182.4 1234.6,181.4 1235.8,179.4 1239.2,177.4 1242.6,172.2 1249.3,166.2 1258.7,162.4Z"/>
<path fill="#460a5d" d="M1283.1,178.4 1289.9,177.6 1298.4,178.4 1306.5,180.4 1310.1,182.3 1310.7,183.4 1310.5,184.4 1309.4,185.4 1303.4,187.6 1296.6,188.7 1289.9,189.1 1283.1,188.3 1278.4,185.4 1277.3,183.4 1277.8,181.4 1279.0,180.4Z"/>
<path fill="#cae11f" d="M951.6,543.20 952.6,543.08 958.6,542.55 964.6,542.33 1000.6,541.79 1022.6,542.32 1028.6,542.61 1030.6,542.77 1032.6,543.12 1033.6,543.20Z"/>
<path fill="#a8db34" d="M975.6,543.20 976.6,543.16 1000.6,542.59 1014.6,543.13 1015.6,543.20Z"/>
</g>
<rect x="76.60" y="64.40" width="621.60" height="478.80" fill="none" stroke="#000" stroke-width="1.1"/>
<line x1="198.22" y1="543.20" x2="198.22" y2="548.40" stroke="#000" stroke-width="1.1"/>
<text x="198.22" y="567.00" font-size="19.44" textLength="12.37" lengthAdjust="spacingAndGlyphs" text-anchor="middle">5</text>
<line x1="333.35" y1="543.20" x2="333.35" y2="548.40" stroke="#000" stroke-width="1.1"/>
<text x="333.35" y="567.00" font-size="19.44" textLength="24.74" lengthAdjust="spacingAndGlyphs" text-anchor="middle">10</text>
<line x1="468.48" y1="543.20" x2="468.48" y2="548.40" stroke="#000" stroke-width="1.1"/>
<text x="468.48" y="567.00" font-size="19.44" textLength="24.74" lengthAdjust="spacingAndGlyphs" text-anchor="middle">15</text>
<line x1="603.61" y1="543.20" x2="603.61" y2="548.40" stroke="#000" stroke-width="1.1"/>
<text x="603.61" y="567.00" font-size="19.44" textLength="24.74" lengthAdjust="spacingAndGlyphs" text-anchor="middle">20</text>
<line x1="71.40" y1="64.40" x2="76.60" y2="64.40" stroke="#000" stroke-width="1.1"/>
<text x="65.00" y="71.30" font-size="19.44" textLength="12.37" lengthAdjust="spacingAndGlyphs" text-anchor="end">0</text>
<line x1="71.40" y1="160.25" x2="76.60" y2="160.25" stroke="#000" stroke-width="1.1"/>
<text x="65.00" y="167.15" font-size="19.44" textLength="37.11" lengthAdjust="spacingAndGlyphs" text-anchor="end">200</text>
<line x1="71.40" y1="256.10" x2="76.60" y2="256.10" stroke="#000" stroke-width="1.1"/>
<text x="65.00" y="263.00" font-size="19.44" textLength="37.11" lengthAdjust="spacingAndGlyphs" text-anchor="end">400</text>
<line x1="71.40" y1="351.95" x2="76.60" y2="351.95" stroke="#000" stroke-width="1.1"/>
<text x="65.00" y="358.85" font-size="19.44" textLength="37.11" lengthAdjust="spacingAndGlyphs" text-anchor="end">600</text>
<line x1="71.40" y1="447.80" x2="76.60" y2="447.80" stroke="#000" stroke-width="1.1"/>
<text x="65.00" y="454.70" font-size="19.44" textLength="37.11" lengthAdjust="spacingAndGlyphs" text-anchor="end">800</text>
<text x="387.40" y="591.80" font-size="19.44" textLength="46.83" lengthAdjust="spacingAndGlyphs" text-anchor="middle">Hour</text>
<text x="19.20" y="303.50" font-size="19.44" textLength="139.44" lengthAdjust="spacingAndGlyphs" text-anchor="middle" transform="rotate(-90 19.20 303.50)">Pressure (hPa)</text>
<rect x="742.60" y="64.40" width="621.60" height="478.80" fill="none" stroke="#000" stroke-width="1.1"/>
<line x1="864.22" y1="543.20" x2="864.22" y2="548.40" stroke="#000" stroke-width="1.1"/>
<text x="864.22" y="567.00" font-size="19.44" textLength="12.37" lengthAdjust="spacingAndGlyphs" text-anchor="middle">5</text>
<line x1="999.35" y1="543.20" x2="999.35" y2="548.40" stroke="#000" stroke-width="1.1"/>
<text x="999.35" y="567.00" font-size="19.44" textLength="24.74" lengthAdjust="spacingAndGlyphs" text-anchor="middle">10</text>
<line x1="1134.48" y1="543.20" x2="1134.48" y2="548.40" stroke="#000" stroke-width="1.1"/>
<text x="1134.48" y="567.00" font-size="19.44" textLength="24.74" lengthAdjust="spacingAndGlyphs" text-anchor="middle">15</text>
<line x1="1269.61" y1="543.20" x2="1269.61" y2="548.40" stroke="#000" stroke-width="1.1"/>
<text x="1269.61" y="567.00" font-size="19.44" textLength="24.74" lengthAdjust="spacingAndGlyphs" text-anchor="middle">20</text>
<line x1="737.40" y1="64.40" x2="742.60" y2="64.40" stroke="#000" stroke-width="1.1"/>
<line x1="737.40" y1="160.25" x2="742.60" y2="160.25" stroke="#000" stroke-width="1.1"/>
<line x1="737.40" y1="256.10" x2="742.60" y2="256.10" stroke="#000" stroke-width="1.1"/>
<line x1="737.40" y1="351.95" x2="742.60" y2="351.95" stroke="#000" stroke-width="1.1"/>
<line x1="737.40" y1="447.80" x2="742.60" y2="447.80" stroke="#000" stroke-width="1.1"/>
<text x="1053.40" y="591.80" font-size="19.44" textLength="46.83" lengthAdjust="spacingAndGlyphs" text-anchor="middle">Hour</text>
<text x="726.50" y="303.50" font-size="19.44" textLength="139.44" lengthAdjust="spacingAndGlyphs" text-anchor="middle" transform="rotate(-90 726.50 303.50)">Pressure (hPa)</text>
<text x="387.00" y="55.80" font-size="23.11" textLength="158.63" lengthAdjust="spacingAndGlyphs" text-anchor="middle">SCREAM CNTL</text>
<text x="1053.40" y="55.80" font-size="23.11" textLength="137.28" lengthAdjust="spacingAndGlyphs" text-anchor="middle">SCREAM INT</text>
<text x="745.90" y="22.30" font-size="25.00" textLength="503.88" lengthAdjust="spacingAndGlyphs" text-anchor="middle">cldfrac_tot_horiz_avg Diurnal Composite</text>
<rect x="1390.40" y="474.86" width="13.20" height="20.14" fill="#efe51c"/>
<rect x="1390.40" y="454.73" width="13.20" height="20.54" fill="#cae11f"/>
<rect x="1390.40" y="434.59" width="13.20" height="20.54" fill="#a8db34"/>
<rect x="1390.40" y="414.45" width="13.20" height="20.54" fill="#84d44b"/>
<rect x="1390.40" y="394.32" width="13.20" height="20.54" fill="#65cb5e"/>
<rect x="1390.40" y="374.18" width="13.20" height="20.54" fill="#48c16e"/>
<rect x="1390.40" y="354.04" width="13.20" height="20.54" fill="#32b67a"/>
<rect x="1390.40" y="333.91" width="13.20" height="20.54" fill="#23a983"/>
<rect x="1390.40" y="313.77" width="13.20" height="20.54" fill="#1e9d89"/>
<rect x="1390.40" y="293.63" width="13.20" height="20.54" fill="#21908d"/>
<rect x="1390.40" y="273.49" width="13.20" height="20.54" fill="#25838e"/>
<rect x="1390.40" y="253.36" width="13.20" height="20.54" fill="#2a778e"/>
<rect x="1390.40" y="233.22" width="13.20" height="20.54" fill="#306a8e"/>
<rect x="1390.40" y="213.08" width="13.20" height="20.54" fill="#365d8d"/>
<rect x="1390.40" y="192.95" width="13.20" height="20.54" fill="#3d4e8a"/>
<rect x="1390.40" y="172.81" width="13.20" height="20.54" fill="#423f85"/>
<rect x="1390.40" y="152.67" width="13.20" height="20.54" fill="#472e7c"/>
<rect x="1390.40" y="132.54" width="13.20" height="20.54" fill="#481d6f"/>
<rect x="1390.40" y="112.40" width="13.20" height="20.54" fill="#460a5d"/>
<rect x="1390.40" y="112.40" width="13.20" height="382.60" fill="none" stroke="#000" stroke-width="1.0"/>
<line x1="1403.60" y1="495.00" x2="1408.40" y2="495.00" stroke="#000" stroke-width="1.1"/>
<text x="1411.80" y="500.80" font-size="16.67" textLength="58.33" lengthAdjust="spacingAndGlyphs" text-anchor="start">0.0000</text>
<line x1="1403.60" y1="454.73" x2="1408.40" y2="454.73" stroke="#000" stroke-width="1.1"/>
<text x="1411.80" y="460.53" font-size="16.67" textLength="58.33" lengthAdjust="spacingAndGlyphs" text-anchor="start">0.0662</text>
<line x1="1403.60" y1="414.45" x2="1408.40" y2="414.45" stroke="#000" stroke-width="1.1"/>
<text x="1411.80" y="420.25" font-size="16.67" textLength="58.33" lengthAdjust="spacingAndGlyphs" text-anchor="start">0.1324</text>
<line x1="1403.60" y1="374.18" x2="1408.40" y2="374.18" stroke="#000" stroke-width="1.1"/>
<text x="1411.80" y="379.98" font-size="16.67" textLength="58.33" lengthAdjust="spacingAndGlyphs" text-anchor="start">0.1986</text>
<line x1="1403.60" y1="333.91" x2="1408.40" y2="333.91" stroke="#000" stroke-width="1.1"/>
<text x="1411.80" y="339.71" font-size="16.67" textLength="58.33" lengthAdjust="spacingAndGlyphs" text-anchor="start">0.2648</text>
<line x1="1403.60" y1="293.63" x2="1408.40" y2="293.63" stroke="#000" stroke-width="1.1"/>
<text x="1411.80" y="299.43" font-size="16.67" textLength="58.33" lengthAdjust="spacingAndGlyphs" text-anchor="start">0.3309</text>
<line x1="1403.60" y1="253.36" x2="1408.40" y2="253.36" stroke="#000" stroke-width="1.1"/>
<text x="1411.80" y="259.16" font-size="16.67" textLength="58.33" lengthAdjust="spacingAndGlyphs" text-anchor="start">0.3971</text>
<line x1="1403.60" y1="213.08" x2="1408.40" y2="213.08" stroke="#000" stroke-width="1.1"/>
<text x="1411.80" y="218.88" font-size="16.67" textLength="58.33" lengthAdjust="spacingAndGlyphs" text-anchor="start">0.4633</text>
<line x1="1403.60" y1="172.81" x2="1408.40" y2="172.81" stroke="#000" stroke-width="1.1"/>
<text x="1411.80" y="178.61" font-size="16.67" textLength="58.33" lengthAdjust="spacingAndGlyphs" text-anchor="start">0.5295</text>
<line x1="1403.60" y1="132.54" x2="1408.40" y2="132.54" stroke="#000" stroke-width="1.1"/>
<text x="1411.80" y="138.34" font-size="16.67" textLength="58.33" lengthAdjust="spacingAndGlyphs" text-anchor="start">0.5957</text>
<text x="1491.80" y="306.30" font-size="19.44" textLength="12.37" lengthAdjust="spacingAndGlyphs" text-anchor="middle" transform="rotate(-90 1491.80 306.30)">1</text>
</svg></body></html>
